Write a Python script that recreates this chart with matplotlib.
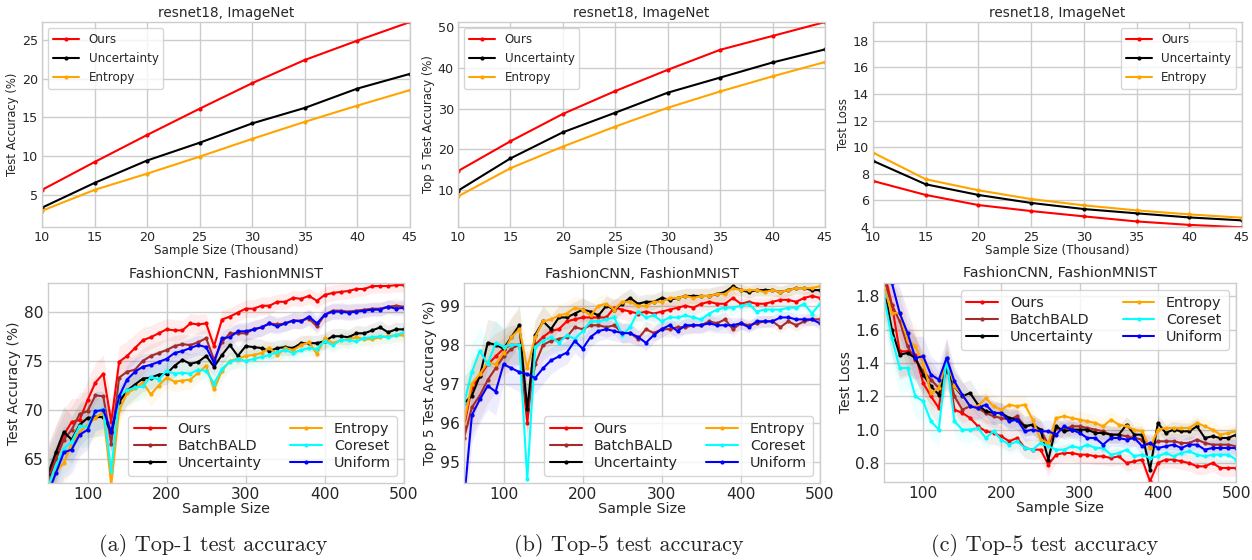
import numpy as np
import matplotlib.pyplot as plt

plt.style.use('seaborn-v0_8-whitegrid')
plt.rcParams['font.family'] = ['DejaVu Sans']

# ---- ImageNet (top row) ----
k_samples = [10, 15, 20, 25, 30, 35, 40, 45]

top1_ours = [5.6, 9.2, 12.7, 16.1, 19.4, 22.4, 24.9, 27.3]
top1_unc = [3.3, 6.5, 9.4, 11.7, 14.2, 16.2, 18.7, 20.6]
top1_ent = [2.9, 5.6, 7.7, 9.9, 12.2, 14.4, 16.5, 18.5]

top5_ours = [14.7, 22.0, 28.7, 34.3, 39.5, 44.4, 47.8, 51.2]
top5_unc = [9.9, 17.8, 24.2, 29.0, 33.9, 37.6, 41.3, 44.5]
top5_ent = [8.5, 15.4, 20.7, 25.6, 30.2, 34.2, 37.9, 41.4]

loss_ours = [7.46, 6.41, 5.65, 5.2, 4.8, 4.42, 4.16, 3.98]
loss_unc = [8.97, 7.21, 6.41, 5.81, 5.35, 5.03, 4.72, 4.5]
loss_ent = [9.59, 7.59, 6.76, 6.1, 5.63, 5.25, 4.95, 4.7]

# ---- FashionMNIST (bottom row) ----
samples = list(range(50, 501, 10))

f1 = {
    'Ours': [63.2, 65.5, 67.5, 68.8, 69.0, 71.0, 72.8, 73.7, 68.8, 74.9, 75.5, 76.3, 77.1, 77.4, 77.8, 78.2,
             78.1, 78.1, 78.8, 78.7, 78.8, 76.5, 79.2, 79.5, 79.9, 80.3, 80.3, 80.6, 80.6, 81.0, 81.0, 81.4,
             81.3, 81.6, 81.1, 81.7, 81.9, 82.0, 82.1, 82.3, 82.3, 82.6, 82.6, 82.6, 82.7, 82.7],
    'BatchBALD': [62.8, 65.0, 67.0, 68.0, 69.6, 69.9, 71.5, 71.4, 66.6, 73.3, 73.9, 74.1, 75.0, 75.5, 75.8, 76.1,
                  76.5, 76.7, 76.6, 76.9, 77.3, 75.1, 76.9, 77.8, 77.8, 77.8, 78.2, 78.4, 78.8, 78.7, 78.8, 79.1,
                  79.1, 79.3, 78.5, 79.7, 80.1, 80.1, 80.0, 80.1, 80.2, 80.3, 80.3, 80.5, 80.6, 80.5],
    'Uncertainty': [63.5, 65.7, 67.8, 67.0, 68.5, 69.2, 69.3, 69.3, 67.8, 70.8, 72.0, 72.6, 73.2, 73.3, 73.6, 73.7,
                    74.5, 75.1, 74.7, 74.9, 75.5, 74.4, 75.6, 76.6, 75.5, 76.5, 76.4, 76.3, 76.0, 76.3, 76.4, 76.3,
                    76.8, 76.8, 76.8, 77.0, 77.5, 77.5, 77.4, 77.8, 77.8, 78.1, 78.4, 77.9, 78.2, 78.2],
    'Entropy': [62.0, 63.8, 64.6, 66.6, 67.8, 68.5, 69.2, 69.8, 62.4, 70.0, 71.7, 72.2, 72.8, 71.6, 72.5, 73.3,
                72.9, 73.0, 73.1, 73.8, 74.5, 72.1, 74.0, 75.0, 75.2, 75.5, 75.6, 75.8, 76.3, 75.6, 76.3, 76.1,
                76.6, 76.9, 75.7, 77.3, 76.8, 77.1, 77.2, 77.4, 77.2, 77.2, 77.4, 77.5, 77.6, 77.6],
    'Coreset': [62.2, 64.3, 66.1, 66.8, 68.4, 68.3, 69.9, 70.1, 63.8, 71.5, 72.0, 72.3, 72.4, 73.4, 73.1, 74.0,
                73.7, 73.8, 73.7, 74.1, 74.0, 72.7, 74.2, 74.9, 75.2, 75.0, 75.2, 75.4, 75.6, 75.9, 76.1, 75.8,
                76.1, 76.3, 76.2, 77.0, 76.6, 77.1, 77.1, 77.0, 77.3, 77.4, 77.5, 77.4, 77.6, 77.9],
    'Uniform': [61.5, 63.6, 65.7, 66.0, 67.5, 68.0, 69.9, 70.0, 67.8, 71.4, 73.1, 73.9, 74.4, 74.6, 74.9, 75.2,
                75.8, 76.0, 76.3, 76.6, 76.4, 74.8, 77.3, 77.4, 78.0, 78.0, 78.2, 78.4, 78.8, 78.5, 78.8, 79.1,
                79.0, 79.5, 78.8, 79.7, 80.0, 80.0, 79.9, 80.0, 80.1, 80.2, 80.2, 80.5, 80.3, 80.4],
}

f5 = {
    'Ours': [95.9, 96.9, 97.2, 97.5, 97.7, 97.9, 98.0, 98.0, 96.0, 98.0, 98.2, 98.35, 98.4, 98.6, 98.65, 98.7,
             98.7, 98.7, 98.7, 98.95, 98.9, 98.85, 98.8, 98.85, 98.8, 98.85, 98.9, 98.95, 99.0, 98.95, 99.05, 99.1,
             99.05, 99.05, 99.2, 99.05, 99.1, 99.05, 99.05, 99.1, 99.15, 99.15, 99.1, 99.2, 99.25, 99.2],
    'BatchBALD': [95.6, 96.4, 96.7, 97.1, 97.4, 97.7, 97.9, 98.0, 96.3, 97.5, 98.0, 98.1, 98.15, 98.2, 98.45, 98.4,
                  98.5, 98.5, 98.45, 98.5, 98.3, 98.3, 98.15, 98.4, 98.3, 98.4, 98.4, 98.45, 98.45, 98.5, 98.5, 98.6,
                  98.55, 98.65, 98.4, 98.55, 98.5, 98.55, 98.6, 98.6, 98.45, 98.6, 98.5, 98.6, 98.65, 98.65],
    'Uncertainty': [96.5, 96.7, 97.2, 98.05, 98.0, 97.9, 98.2, 98.5, 96.35, 98.25, 98.6, 98.4, 98.7, 98.7, 98.8,
                    98.9, 98.85, 98.75, 99.0, 98.9, 99.05, 99.2, 99.05, 99.1, 99.1, 99.2, 99.15, 99.2, 99.25, 99.25,
                    99.25, 99.25, 99.3, 99.35, 99.5, 99.4, 99.35, 99.4, 99.4, 99.4, 99.35, 99.4, 99.45, 99.45, 99.4,
                    99.4],
    'Entropy': [96.0, 97.0, 97.25, 97.55, 97.5, 97.8, 98.2, 98.4, 97.4, 98.2, 98.6, 98.65, 98.75, 98.8, 98.95, 98.9,
                98.75, 99.0, 99.05, 98.9, 99.1, 99.1, 99.0, 99.0, 99.1, 99.1, 99.2, 99.2, 99.25, 99.2, 99.25, 99.25,
                99.3, 99.3, 99.45, 99.4, 99.4, 99.4, 99.35, 99.4, 99.35, 99.4, 99.45, 99.45, 99.45, 99.5],
    'Coreset': [96.5, 97.3, 97.85, 97.5, 98.05, 97.95, 98.0, 98.0, 94.55, 97.95, 98.1, 98.2, 98.05, 98.25, 98.15,
                98.35, 98.6, 98.6, 98.65, 98.7, 98.25, 98.45, 98.85, 98.7, 98.75, 98.6, 98.7, 98.7, 98.75, 98.7,
                98.65, 98.8, 98.9, 98.95, 98.95, 99.0, 99.05, 98.85, 98.9, 98.9, 98.9, 98.95, 98.95, 99.05, 98.8,
                99.05],
    'Uniform': [94.0, 96.2, 96.6, 96.95, 96.8, 97.5, 97.4, 97.3, 97.25, 97.15, 97.4, 97.6, 97.7, 97.8, 98.1, 97.9,
                98.2, 98.35, 98.4, 98.35, 98.3, 98.3, 98.2, 98.05, 98.25, 98.4, 98.5, 98.35, 98.5, 98.5, 98.5, 98.55,
                98.5, 98.5, 98.5, 98.55, 98.45, 98.6, 98.6, 98.6, 98.7, 98.7, 98.65, 98.65, 98.65, 98.55],
}

floss = {
    'Ours': [1.95, 1.75, 1.47, 1.47, 1.45, 1.28, 1.2, 1.13, 1.43, 1.12, 1.1, 1.07, 1.02, 0.99, 0.98, 0.96, 0.93,
             0.95, 0.89, 0.88, 0.88, 0.79, 0.85, 0.86, 0.86, 0.85, 0.85, 0.84, 0.84, 0.83, 0.84, 0.8, 0.81, 0.82,
             0.69, 0.8, 0.82, 0.82, 0.81, 0.8, 0.78, 0.78, 0.8, 0.77, 0.77, 0.77],
    'BatchBALD': [1.9, 1.75, 1.65, 1.5, 1.42, 1.35, 1.3, 1.25, 1.38, 1.2, 1.12, 1.14, 1.13, 1.1, 1.08, 1.07, 1.06,
                  1.08, 1.02, 1.03, 1.0, 0.91, 1.01, 1.0, 1.02, 1.02, 1.01, 1.0, 0.99, 0.97, 0.97, 0.96, 0.95, 0.94,
                  0.9, 0.93, 0.93, 0.93, 0.92, 0.92, 0.94, 0.92, 0.91, 0.91, 0.91, 0.9],
    'Uncertainty': [1.85, 1.6, 1.45, 1.46, 1.43, 1.33, 1.26, 1.21, 1.36, 1.26, 1.2, 1.22, 1.15, 1.11, 1.1, 1.1, 1.07,
                    1.06, 1.02, 1.03, 1.0, 0.82, 1.02, 0.99, 1.0, 1.0, 1.0, 0.98, 0.98, 0.97, 0.97, 1.03, 0.97, 0.97,
                    0.76, 1.04, 0.98, 1.0, 0.99, 0.99, 1.02, 0.95, 0.96, 0.95, 0.95, 0.97],
    'Entropy': [1.85, 1.7, 1.7, 1.54, 1.5, 1.4, 1.22, 1.25, 1.43, 1.26, 1.21, 1.14, 1.14, 1.19, 1.14, 1.12, 1.15,
                1.14, 1.15, 1.06, 0.94, 0.92, 1.07, 1.08, 1.07, 1.06, 1.05, 1.04, 1.02, 1.06, 1.03, 1.02, 1.0, 0.99,
                0.89, 1.0, 1.01, 1.01, 1.01, 1.01, 1.04, 1.02, 1.0, 0.97, 0.98, 0.99],
    'Coreset': [1.8, 1.55, 1.37, 1.37, 1.2, 1.17, 1.05, 1.0, 1.43, 1.05, 1.0, 1.0, 1.01, 0.95, 0.99, 0.94, 0.91,
                0.93, 0.89, 0.88, 0.92, 0.9, 0.88, 0.88, 0.9, 0.89, 0.91, 0.89, 0.89, 0.85, 0.86, 0.88, 0.84, 0.85,
                0.83, 0.84, 0.86, 0.84, 0.86, 0.87, 0.85, 0.84, 0.85, 0.85, 0.85, 0.82],
    'Uniform': [2.0, 1.88, 1.7, 1.58, 1.43, 1.44, 1.33, 1.3, 1.43, 1.29, 1.21, 1.14, 1.13, 1.15, 1.1, 1.1, 1.05,
                1.06, 0.99, 1.0, 0.99, 0.99, 0.97, 1.02, 1.0, 0.98, 0.95, 0.95, 0.91, 0.95, 0.95, 0.94, 0.95, 0.9,
                0.92, 0.89, 0.9, 0.91, 0.89, 0.91, 0.91, 0.88, 0.89, 0.89, 0.89, 0.89],
}

# half-width of the shaded bands (read roughly)
spread1 = [3.0, 2.8, 2.6, 2.4, 2.2, 2.0, 2.0, 1.9, 2.0, 1.6, 1.5, 1.4, 1.3, 1.2, 1.2, 1.1, 1.1, 1.0, 1.0, 1.0,
           1.0, 1.0, 1.0, 0.9, 0.9, 0.9, 0.9, 0.9, 0.9, 0.8, 0.8, 0.8, 0.8, 0.8, 0.8, 0.8, 0.8, 0.8, 0.8, 0.8,
           0.7, 0.7, 0.7, 0.7, 0.7, 0.7]
spread5 = [0.7, 0.7, 0.6, 0.6, 0.6, 0.5, 0.5, 0.5, 0.6, 0.4, 0.4, 0.35, 0.3, 0.3, 0.3, 0.3, 0.25, 0.25, 0.25,
           0.25, 0.25, 0.25, 0.2, 0.2, 0.2, 0.2, 0.2, 0.2, 0.2, 0.2, 0.2, 0.2, 0.2, 0.2, 0.2, 0.15, 0.15, 0.15,
           0.15, 0.15, 0.15, 0.15, 0.15, 0.15, 0.15, 0.15]
spreadl = [0.18, 0.16, 0.15, 0.14, 0.13, 0.12, 0.11, 0.1, 0.12, 0.09, 0.08, 0.08, 0.07, 0.07, 0.07, 0.06, 0.06,
           0.06, 0.06, 0.06, 0.06, 0.07, 0.05, 0.05, 0.05, 0.05, 0.05, 0.05, 0.05, 0.05, 0.05, 0.05, 0.05, 0.05,
           0.06, 0.05, 0.05, 0.05, 0.05, 0.05, 0.05, 0.05, 0.05, 0.05, 0.05, 0.05]

colors = {'Ours': 'red', 'BatchBALD': 'brown', 'Uncertainty': 'black',
          'Entropy': 'orange', 'Coreset': 'cyan', 'Uniform': 'blue'}
legend_order = ['Ours', 'BatchBALD', 'Uncertainty', 'Entropy', 'Coreset', 'Uniform']

fig = plt.figure(figsize=(12.52, 5.6), dpi=100)

top_boxes = [[0.0335, 0.5946, 0.2939, 0.366],
             [0.3658, 0.5946, 0.2931, 0.366],
             [0.6973, 0.5946, 0.2947, 0.366]]
bot_boxes = [[0.0383, 0.1375, 0.2843, 0.357],
             [0.3706, 0.1375, 0.2843, 0.357],
             [0.7061, 0.1393, 0.2812, 0.3554]]


def style_axis(ax, size):
    for sp in ax.spines.values():
        sp.set_visible(True)
        sp.set_color('0.8')
    ax.tick_params(labelsize=size, colors='0.15', length=0, pad=3)
    ax.grid(True, color='0.8', linewidth=1)


# top row
top_sets = [
    (top1_ours, top1_unc, top1_ent, 'Test Accuracy (%)', (0.8, 27.3), [5, 10, 15, 20, 25], 'upper left'),
    (top5_ours, top5_unc, top5_ent, 'Top 5 Test Accuracy (%)', (1.0, 51.2), [10, 20, 30, 40, 50], 'upper left'),
    (loss_ours, loss_unc, loss_ent, 'Test Loss', (4.0, 19.4), [4, 6, 8, 10, 12, 14, 16, 18], 'upper right'),
]
for box, (o, u, e, ylab, ylim, yt, loc) in zip(top_boxes, top_sets):
    ax = fig.add_axes(box)
    ax.plot(k_samples, o, '.-', color='red', lw=1.5, ms=4, label='Ours')
    ax.plot(k_samples, u, '.-', color='black', lw=1.5, ms=4, label='Uncertainty')
    ax.plot(k_samples, e, '.-', color='orange', lw=1.5, ms=4, label='Entropy')
    ax.set_xlim(10, 45)
    ax.set_ylim(*ylim)
    ax.set_yticks(yt)
    ax.set_xticks(k_samples)
    style_axis(ax, 9.2)
    ax.set_title('resnet18, ImageNet', fontsize=9.8, color='0.15', pad=4)
    ax.set_xlabel('Sample Size (Thousand)', fontsize=8.6, color='0.15', labelpad=0)
    ax.set_ylabel(ylab, fontsize=8.4, color='0.15', labelpad=2)
    ax.legend(loc=loc, fontsize=8.6, frameon=True, facecolor='white', edgecolor='0.8',
              framealpha=0.8, handlelength=2.2)

# bottom row
bot_sets = [
    (f1, spread1, 'Test Accuracy (%)', (62.6, 82.9), [65, 70, 75, 80], 'lower right'),
    (f5, spread5, 'Top 5 Test Accuracy (%)', (94.46, 99.58), [95, 96, 97, 98, 99], 'lower right'),
    (floss, spreadl, 'Test Loss', (0.686, 1.88), [0.8, 1.0, 1.2, 1.4, 1.6, 1.8], 'upper right'),
]
for box, (data, spread, ylab, ylim, yt, loc) in zip(bot_boxes, bot_sets):
    ax = fig.add_axes(box)
    for name in legend_order:
        vals = np.array(data[name])
        sd = np.array(spread)
        ax.fill_between(samples, vals - sd, vals + sd, color=colors[name], alpha=0.07, lw=0)
    for name in legend_order:
        ax.plot(samples, data[name], '.-', color=colors[name], lw=1.5, ms=4, label=name)
    ax.set_xlim(50, 500)
    ax.set_ylim(*ylim)
    ax.set_xticks([100, 200, 300, 400, 500])
    ax.set_yticks(yt)
    style_axis(ax, 11.2)
    ax.set_title('FashionCNN, FashionMNIST', fontsize=10.4, color='0.15', pad=4)
    ax.set_xlabel('Sample Size', fontsize=10.4, color='0.15', labelpad=0)
    ax.set_ylabel(ylab, fontsize=10, color='0.15', labelpad=2)
    ax.legend(loc=loc, ncol=2, fontsize=10.4, frameon=True, facecolor='white', edgecolor='0.8',
              framealpha=0.8, handlelength=2.2, columnspacing=2.0, labelspacing=0.2)

captions = ['(a) Top-1 test accuracy', '(b) Top-5 test accuracy', '(c) Top-5 test accuracy']
for cx, cap in zip([0.17, 0.502, 0.834], captions):
    fig.text(cx, 0.006, cap, ha='center', va='bottom', fontsize=16, family='cmr10')

fig.savefig('out.png', dpi=100)
